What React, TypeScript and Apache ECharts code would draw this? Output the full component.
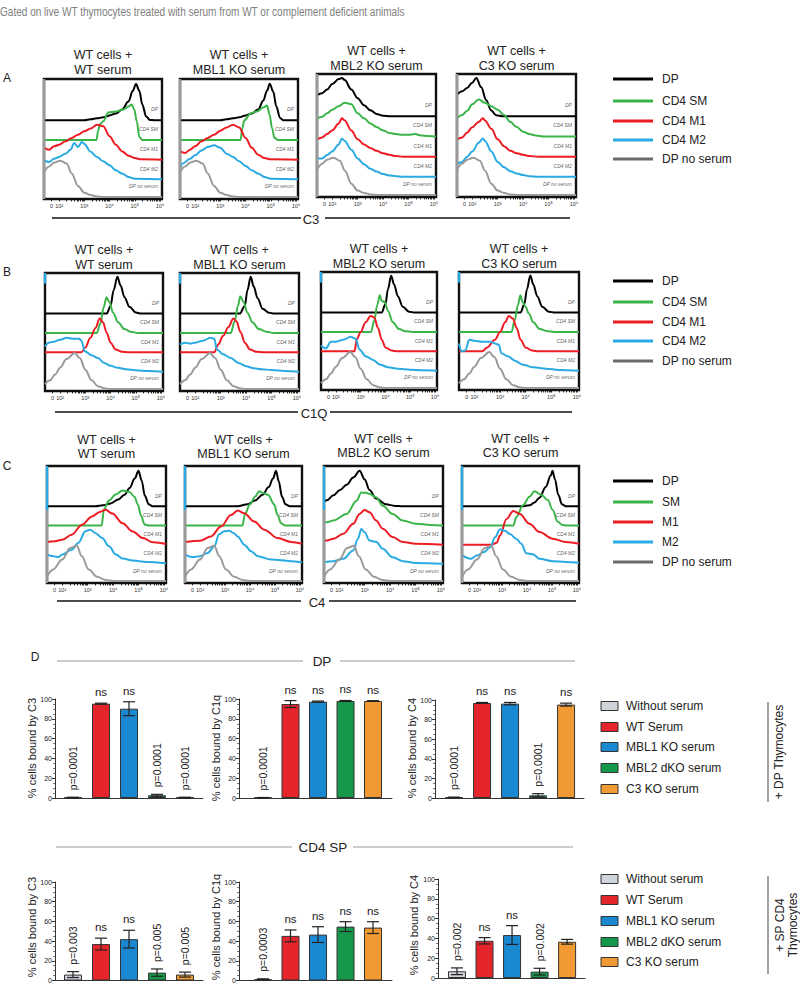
import React, { useEffect, useRef } from "react";
import * as echarts from "echarts";

const FONT = "'Liberation Sans', Arial, Helvetica, sans-serif";

// ---------------- texts ----------------
const FIGURE_TITLE = "Gated on live WT thymocytes treated with serum from WT or complement deficient animals";
const PANEL_TITLE_TOP = ["WT cells +", "WT cells +", "WT cells +", "WT cells +"];
const PANEL_TITLE_BOTTOM = ["WT serum", "MBL1 KO serum", "MBL2 KO serum", "C3 KO serum"];
const ROW_LETTERS = ["A", "B", "C"];
const MARKERS = ["C3", "C1Q", "C4"];
const IN_PANEL_LABELS = ["DP", "CD4 SM", "CD4 M1", "CD4 M2", "DP no serum"];
const LEGEND_AB = ["DP", "CD4 SM", "CD4 M1", "CD4 M2", "DP no serum"];
const LEGEND_C = ["DP", "SM", "M1", "M2", "DP no serum"];
const X_TICK_VALUES = [1.7, 2, 3, 4, 5, 6];
const X_TICK_LABELS = ["0", "10²", "10³", "10⁴", "10⁵", "10⁶"];
const HIST_COLORS = ["#000000", "#3bb54a", "#ed1c24", "#29aae2", "#9a9a9a"];
const LEGEND_COLORS = ["#000000", "#3bb54a", "#ed1c24", "#29aae2", "#6b6b6b"];
const BASELINES = [4, 3, 2, 1, 0.1];

// ---------------- histogram curves: [log10 position, height above the curve's baseline] ----------------
// Row A: C3
const C3_WT = [
  [[1.4,0],[3.0,0],[3.25,0.05],[3.5,0.1],[3.75,0.15],[4.0,0.25],[4.25,0.35],[4.5,0.55],[4.75,0.95],[4.92,1.5],[5.05,1.85],[5.18,1.5],[5.3,0.8],[5.45,0.2],[5.6,0.02],[5.8,0],[6.08,0]],
  [[1.4,0],[3.48,0],[3.55,0.5],[3.62,0.8],[3.75,0.95],[3.95,1.4],[4.25,1.45],[4.55,1.55],[4.75,1.7],[4.88,1.8],[4.98,1.55],[5.08,0.95],[5.18,0.15],[5.3,0],[6.08,0]],
  [[1.4,0.6],[1.6,0.5],[1.8,0.68],[2.0,0.76],[2.25,0.93],[2.5,1.1],[2.75,1.27],[3.0,1.44],[3.25,1.58],[3.5,1.78],[3.75,1.7],[4.0,1.19],[4.25,0.76],[4.5,0.42],[4.75,0.2],[5.0,0.08],[5.25,0.02],[6.08,0]],
  [[1.4,0.97],[1.6,0.88],[1.8,1.05],[2.0,1.14],[2.25,1.3],[2.45,1.5],[2.6,1.85],[2.75,1.64],[2.9,1.9],[3.0,1.8],[3.25,1.4],[3.5,1.14],[3.75,0.92],[4.0,0.71],[4.25,0.46],[4.5,0.29],[4.75,0.12],[5.0,0.03],[6.08,0]],
];
const C3_MBL1 = [
  [[1.4,0],[3.0,0],[3.25,0.05],[3.5,0.1],[3.75,0.15],[4.0,0.25],[4.25,0.35],[4.5,0.55],[4.7,1.0],[4.85,1.5],[4.96,1.86],[5.1,1.45],[5.22,0.7],[5.37,0.12],[5.5,0],[6.08,0]],
  [[1.4,0],[3.8,0],[3.87,0.6],[3.95,1.0],[4.2,1.35],[4.45,1.45],[4.7,1.65],[4.85,1.75],[4.95,1.3],[5.05,0.6],[5.15,0.1],[5.3,0],[6.08,0]],
  [[1.4,0.42],[1.6,0.34],[1.8,0.5],[2.0,0.68],[2.25,0.93],[2.5,1.1],[2.75,1.27],[3.0,1.47],[3.25,1.64],[3.5,1.78],[3.75,1.64],[4.0,1.1],[4.25,0.6],[4.5,0.25],[4.75,0.08],[5.0,0.02],[6.08,0]],
  [[1.4,0.5],[1.5,0.8],[1.8,1.05],[2.0,1.22],[2.25,1.47],[2.5,1.64],[2.75,1.73],[3.0,1.6],[3.25,1.3],[3.5,1.14],[3.75,0.92],[4.0,0.68],[4.25,0.46],[4.5,0.29],[4.75,0.12],[5.0,0.03],[6.08,0]],
];
const C3_MBL2 = [
  [[1.4,1.05],[1.6,1.15],[1.8,1.33],[2.0,1.6],[2.25,1.85],[2.38,1.9],[2.49,1.8],[2.75,1.33],[3.0,0.9],[3.25,0.55],[3.5,0.3],[3.74,0.12],[4.0,0.03],[4.3,0],[6.08,0]],
  [[1.4,0.9],[1.6,0.98],[1.8,1.15],[2.0,1.33],[2.25,1.5],[2.49,1.67],[2.75,1.6],[3.0,1.15],[3.25,0.9],[3.5,0.64],[3.74,0.47],[4.0,0.3],[4.25,0.17],[4.5,0.12],[4.75,0.09],[5.0,0.09],[5.25,0.12],[5.5,0.05],[5.75,0.02],[6.08,0]],
  [[1.4,0.86],[1.6,0.95],[1.8,1.12],[2.0,1.3],[2.25,1.64],[2.38,1.9],[2.49,1.8],[2.75,1.3],[3.0,0.86],[3.25,0.6],[3.5,0.43],[3.74,0.29],[4.0,0.17],[4.25,0.09],[4.5,0.03],[4.8,0],[6.08,0]],
  [[1.4,0.91],[1.6,0.91],[1.8,1.08],[2.0,1.26],[2.25,1.6],[2.38,1.9],[2.49,1.78],[2.75,1.34],[3.0,0.91],[3.25,0.62],[3.5,0.4],[3.74,0.26],[4.0,0.14],[4.25,0.07],[4.5,0.03],[4.8,0],[6.08,0]],
];
const C3_C3KO = [
  [[1.4,1.07],[1.6,1.24],[1.8,1.41],[2.0,1.67],[2.16,1.9],[2.35,1.45],[2.55,0.8],[2.74,0.3],[2.94,0.05],[3.2,0],[6.08,0]],
  [[1.4,0.9],[1.6,1.07],[1.8,1.28],[2.0,1.6],[2.25,1.84],[2.5,1.67],[2.75,1.5],[3.0,1.33],[3.25,1.07],[3.5,0.72],[3.75,0.47],[4.0,0.24],[4.25,0.12],[4.5,0.05],[4.8,0],[6.08,0]],
  [[1.4,0.86],[1.6,0.95],[1.8,1.2],[2.0,1.46],[2.25,1.72],[2.42,1.9],[2.5,1.8],[2.75,1.38],[3.0,0.86],[3.25,0.52],[3.5,0.29],[3.75,0.17],[4.0,0.09],[4.25,0.03],[4.6,0],[6.08,0]],
  [[1.4,0.65],[1.6,0.74],[1.8,1.0],[2.0,1.26],[2.25,1.69],[2.42,1.9],[2.5,1.78],[2.75,1.26],[3.0,0.74],[3.25,0.48],[3.5,0.28],[3.75,0.17],[4.0,0.09],[4.25,0.03],[4.6,0],[6.08,0]],
];
const GRAY_C3 = [[1.4,1.25],[1.6,1.55],[1.8,1.75],[2.05,1.85],[2.3,1.7],[2.5,1.2],[2.75,0.56],[3.0,0.22],[3.25,0.1],[3.5,0.03],[3.8,0],[6.08,0]];

// Row B: C1Q
const C1Q_WT = [
  [[1.4,0],[3.85,0],[4.0,0.4],[4.12,1.2],[4.27,1.9],[4.4,1.45],[4.55,0.85],[4.75,0.35],[5.0,0.06],[5.2,0],[6.08,0]],
  [[1.4,0],[3.45,0],[3.6,0.5],[3.72,1.3],[3.84,1.85],[3.95,1.6],[4.1,1.05],[4.3,0.55],[4.55,0.2],[4.8,0.06],[5.1,0],[6.08,0]],
  [[1.4,0],[2.85,0],[3.0,0.25],[3.2,0.75],[3.4,1.25],[3.57,1.75],[3.7,1.55],[3.85,1.0],[4.0,0.5],[4.2,0.15],[4.45,0.03],[4.7,0],[6.08,0]],
  [[1.4,1.3],[1.55,1.5],[1.75,1.55],[2.0,1.65],[2.25,1.75],[2.5,1.7],[2.75,1.7],[2.85,1.6],[2.98,1.05],[3.25,0.85],[3.5,0.7],[3.75,0.45],[4.0,0.3],[4.3,0.2],[4.6,0.12],[5.0,0.07],[5.5,0.03],[6.08,0]],
];
const C1Q_MBL1 = [
  [[1.4,0],[3.75,0],[3.95,0.4],[4.05,1.2],[4.18,1.9],[4.3,1.4],[4.45,0.8],[4.65,0.25],[4.9,0.05],[5.1,0],[6.08,0]],
  [[1.4,0],[3.4,0],[3.55,0.6],[3.68,1.4],[3.77,1.9],[3.9,1.6],[4.05,1.05],[4.25,0.55],[4.5,0.2],[4.8,0.06],[5.1,0],[6.08,0]],
  [[1.4,0],[2.75,0],[2.9,0.4],[3.1,0.85],[3.3,1.3],[3.5,1.75],[3.62,1.6],[3.78,1.05],[3.95,0.5],[4.15,0.15],[4.4,0.03],[4.7,0],[6.08,0]],
  [[1.4,1.4],[1.6,1.5],[1.8,1.45],[2.0,1.5],[2.3,1.6],[2.6,1.75],[2.75,1.7],[2.85,1.15],[3.1,0.9],[3.4,0.7],[3.7,0.45],[4.0,0.28],[4.3,0.18],[4.6,0.13],[5.0,0.08],[5.5,0.03],[6.08,0]],
];
const C1Q_MBL2 = [
  [[1.4,0],[3.85,0],[4.0,0.45],[4.1,1.2],[4.23,1.9],[4.35,1.45],[4.5,0.85],[4.7,0.3],[4.95,0.05],[5.2,0],[6.08,0]],
  [[1.4,0],[3.42,0],[3.55,0.6],[3.67,1.4],[3.77,1.9],[3.85,1.6],[3.97,1.55],[4.1,1.1],[4.3,0.5],[4.55,0.15],[4.8,0.04],[5.1,0],[6.08,0]],
  [[1.4,0],[2.75,0],[2.85,0.65],[3.0,1.0],[3.2,1.5],[3.4,1.83],[3.55,1.75],[3.7,1.2],[3.85,0.6],[4.0,0.2],[4.25,0.04],[4.5,0],[6.08,0]],
  [[1.4,1.3],[1.6,1.15],[1.8,1.5],[2.0,1.5],[2.3,1.6],[2.6,1.75],[2.8,1.65],[2.95,1.1],[3.2,0.75],[3.5,0.55],[3.8,0.3],[4.1,0.18],[4.5,0.1],[5.0,0.05],[5.5,0.02],[6.08,0]],
];
const C1Q_C3KO = [
  [[1.4,0],[3.8,0],[3.95,0.45],[4.05,1.2],[4.18,1.92],[4.3,1.45],[4.45,0.85],[4.65,0.3],[4.9,0.05],[5.15,0],[6.08,0]],
  [[1.4,0],[3.45,0],[3.57,0.6],[3.7,1.4],[3.79,1.9],[3.88,1.55],[4.0,1.3],[4.12,0.95],[4.3,0.5],[4.55,0.15],[4.85,0.04],[5.1,0],[6.08,0]],
  [[1.4,0],[2.3,0],[2.5,0.2],[2.8,0.6],[3.0,1.0],[3.2,1.5],[3.34,1.83],[3.5,1.7],[3.65,1.2],[3.8,0.6],[4.0,0.2],[4.25,0.04],[4.5,0],[6.08,0]],
  [[1.4,1.4],[1.5,1.0],[1.65,1.05],[1.8,1.6],[2.0,1.55],[2.3,1.5],[2.6,1.5],[2.95,1.35],[3.05,0.9],[3.3,0.75],[3.6,0.5],[3.9,0.3],[4.3,0.17],[4.8,0.1],[5.3,0.04],[6.08,0]],
];
const GRAY_C1Q = [[1.4,0.25],[1.6,0.45],[1.8,0.75],[2.0,1.1],[2.25,1.55],[2.58,1.86],[2.78,1.6],[3.0,1.0],[3.25,0.45],[3.5,0.15],[3.75,0.04],[4.0,0],[6.08,0]];

// Row C: C4
const C4_WT = [
  [[1.4,0],[3.3,0],[3.6,0.05],[3.9,0.15],[4.2,0.35],[4.45,0.6],[4.65,0.95],[4.85,1.45],[5.0,1.85],[5.12,1.35],[5.25,0.55],[5.4,0.1],[5.55,0],[6.08,0]],
  [[1.4,0],[3.55,0],[3.64,0.85],[3.84,1.3],[4.1,1.62],[4.37,1.82],[4.64,1.75],[4.84,1.5],[4.97,1.1],[5.1,0.5],[5.24,0.05],[5.4,0],[6.08,0]],
  [[1.4,0.14],[1.7,0.18],[2.0,0.26],[2.37,0.52],[2.77,1.03],[3.17,1.47],[3.5,1.72],[3.71,1.82],[3.97,1.62],[4.37,1.12],[4.77,0.69],[5.17,0.34],[5.57,0.12],[6.08,0.03]],
  [[1.4,0.48],[1.64,0.4],[1.84,0.35],[2.0,0.48],[2.37,0.74],[2.64,1.1],[2.91,1.7],[3.1,1.78],[3.31,1.6],[3.57,1.34],[3.84,0.91],[4.11,0.48],[4.37,0.28],[4.77,0.17],[5.31,0.1],[6.08,0.03]],
];
const C4_MBL1 = [
  [[1.4,0],[3.5,0],[3.9,0.1],[4.2,0.3],[4.5,0.6],[4.75,1.0],[4.92,1.45],[5.04,1.85],[5.15,1.3],[5.28,0.5],[5.42,0.1],[5.6,0],[6.08,0]],
  [[1.4,0],[3.7,0],[3.8,0.6],[4.0,1.1],[4.2,1.5],[4.37,1.78],[4.55,1.68],[4.72,1.6],[4.97,1.09],[5.1,0.55],[5.24,0.12],[5.4,0],[6.08,0]],
  [[1.4,0.14],[2.0,0.2],[2.44,0.43],[2.84,0.95],[3.24,1.55],[3.51,1.78],[3.77,1.64],[4.17,1.2],[4.57,0.78],[5.11,0.34],[5.64,0.14],[6.08,0.04]],
  [[1.4,0.48],[1.7,0.35],[2.0,0.4],[2.31,0.57],[2.57,0.91],[2.77,1.55],[2.97,1.7],[3.17,1.72],[3.35,1.6],[3.51,1.43],[3.77,1.0],[4.04,0.66],[4.31,0.4],[4.84,0.22],[5.64,0.14],[6.08,0.08]],
];
const C4_MBL2 = [
  [[1.4,0.25],[1.51,0.31],[1.77,0.57],[2.03,0.85],[2.29,1.12],[2.55,1.5],[2.8,1.85],[3.0,1.4],[3.19,0.85],[3.45,0.4],[3.84,0.1],[4.2,0.02],[4.5,0],[6.08,0]],
  [[1.4,0.15],[1.51,0.17],[1.77,0.26],[2.29,0.6],[2.68,1.29],[2.87,1.72],[3.06,1.7],[3.19,1.64],[3.45,1.47],[3.71,1.03],[4.1,0.6],[4.49,0.26],[5.01,0.09],[5.6,0.03],[6.08,0]],
  [[1.4,0.2],[1.51,0.22],[1.77,0.31],[2.16,0.57],[2.55,1.09],[2.8,1.6],[3.0,1.81],[3.19,1.69],[3.45,1.26],[3.71,0.83],[4.1,0.4],[4.49,0.14],[5.0,0.05],[6.08,0]],
  [[1.4,0.08],[1.77,0.14],[2.16,0.26],[2.55,0.69],[2.73,1.29],[2.87,1.81],[3.0,1.64],[3.19,1.21],[3.45,1.15],[3.71,0.78],[4.1,0.34],[4.49,0.14],[5.0,0.04],[6.08,0]],
];
const C4_C3KO = [
  [[1.4,0],[3.8,0],[4.1,0.05],[4.3,0.2],[4.5,0.45],[4.75,1.0],[4.95,1.6],[5.02,1.85],[5.12,1.4],[5.25,0.6],[5.4,0.1],[5.55,0],[6.08,0]],
  [[1.4,0],[3.45,0],[3.58,0.45],[3.84,1.05],[4.1,1.5],[4.3,1.78],[4.57,1.6],[4.83,1.33],[5.03,0.81],[5.22,0.2],[5.42,0.02],[5.6,0],[6.08,0]],
  [[1.4,0],[2.6,0],[2.79,0.1],[2.92,0.48],[3.18,1.34],[3.45,1.76],[3.71,1.6],[4.1,1.09],[4.5,0.66],[5.03,0.31],[5.55,0.14],[6.08,0.05]],
  [[1.4,0.45],[1.74,0.26],[2.0,0.43],[2.26,0.6],[2.53,0.86],[2.72,1.38],[2.92,1.8],[3.12,1.72],[3.32,1.55],[3.58,1.29],[3.78,1.03],[3.97,0.55],[4.24,0.5],[4.5,0.26],[5.03,0.14],[5.55,0.09],[6.08,0.05]],
];
const GRAY_C4 = [[1.4,0.22],[1.64,0.6],[2.0,1.12],[2.31,1.72],[2.57,1.84],[2.77,1.29],[3.04,0.6],[3.37,0.22],[3.71,0.05],[4.0,0],[6.08,0]];

// events piled up at the axis minimum (vertical runs on the left edge): [curve index, from, to]
const PILEUP_C3 = [[4, 0, 6.1]];
const PILEUP_C1Q = [[3, 5.55, 6.1]];
const PILEUP_C4 = [[3, 3.8, 6.1], [4, 0, 3.8]];

// ---------------- bar charts ----------------
const BAR_GROUPS = ["Without serum", "WT Serum", "MBL1 KO serum", "MBL2 dKO serum", "C3 KO serum"];
const BAR_COLORS = ["#cfd3da", "#e4262c", "#1b88d2", "#16984a", "#f19a33"];

const DP_C3_MEAN = [0.5, 95.3, 90.2, 2.7, 0.5];
const DP_C3_ERR = [0.3, 0.5, 7, 1, 0.3];
const DP_C3_LABELS = ["p=0.0001", "ns", "ns", "p=0.0001", "p=0.0001"];
const DP_C1Q_MEAN = [0.3, 94.9, 97.3, 98, 98];
const DP_C1Q_ERR = [0.2, 3.5, 0.6, 0.5, 0.3];
const DP_C1Q_LABELS = ["p=0.0001", "ns", "ns", "ns", "ns"];
const DP_C4_MEAN = [0.6, 97, 96.3, 2.7, 95.3];
const DP_C4_ERR = [0.3, 0.5, 1.2, 1.7, 1.5];
const DP_C4_LABELS = ["p=0.0001", "ns", "ns", "p=0.0001", "ns"];
const SP_C3_MEAN = [6, 37, 42, 8, 6];
const SP_C3_ERR = [3, 6, 9, 3.7, 2.5];
const SP_C3_LABELS = ["p=0.003", "ns", "ns", "p=0.005", "p=0.005"];
const SP_C1Q_MEAN = [1.3, 45.3, 46.6, 54.7, 53.7];
const SP_C1Q_ERR = [0.4, 6, 8, 5, 6];
const SP_C1Q_LABELS = ["p=0.0003", "ns", "ns", "ns", "ns"];
const SP_C4_MEAN = [6.8, 37.6, 43.4, 6.4, 36.6];
const SP_C4_ERR = [3.4, 3.2, 9.5, 3.4, 2.4];
const SP_C4_LABELS = ["p=0.002", "ns", "ns", "p=0.002", ""];
const Y_NAMES = ["% cells bound by C3", "% cells bound by C1q", "% cells bound by C4"];
const SECTION_TITLES = ["DP", "CD4 SP"];
const SIDE_DP = ["+ DP Thymocytes"];
const SIDE_SP = ["+ SP CD4", "Thymocytes"];

// ---------------- layout (pixels) ----------------
const HIST_RECTS = [
  [[44, 79, 118, 120], [180, 79, 118, 120], [317, 74, 119, 123], [457, 74, 119, 123]],
  [[45, 273, 118, 118], [180, 273, 119, 118], [321, 272, 116, 118], [459, 272, 120, 118]],
  [[47, 466, 119, 117], [185, 466, 117, 117], [324, 466, 119, 117], [462, 466, 117, 117]],
];
const TITLE_Y = [
  [[55, 70], [55, 70], [51, 66], [51, 66]],
  [[250, 265], [250, 265], [249, 264], [249, 264]],
  [[440, 454], [440, 454], [439, 453], [439, 453]],
];
const ROW_LEGEND_Y = [[79, 101, 121, 140, 159], [281, 302, 322, 341, 361], [481, 502, 522, 542, 562]];
const ROW_LETTER_Y = [78, 272, 466];
const ROW_AXIS = [
  { y: 218, left: [52, 301], right: [325, 570], lx: 311 },
  { y: 412, left: [55, 298], right: [330, 572], lx: 314 },
  { y: 601, left: [57, 301], right: [329, 576], lx: 317 },
];
const BAR_RECTS = [
  { rect: [55, 699, 148, 99], min: -0.643, max: 4.643, nameX: 32, nameY: 748 },
  { rect: [239, 699, 153, 99], min: -0.873, max: 4.69, nameX: 216, nameY: 748 },
  { rect: [435, 700, 149, 98], min: -0.68, max: 4.64, nameX: 412, nameY: 748 },
  { rect: [55, 882, 148, 99], min: -0.643, max: 4.643, nameX: 32, nameY: 927 },
  { rect: [239, 882, 153, 99], min: -0.873, max: 4.69, nameX: 216, nameY: 927 },
  { rect: [438, 879, 147, 99], min: -0.69, max: 4.65, nameX: 414, nameY: 925 },
];

function buildOption() {
  const grid: any[] = [];
  const xAxis: any[] = [];
  const yAxis: any[] = [];
  const series: any[] = [];
  const graphic: any[] = [];

  const txt = (x: number, y: number, s: string, size: number, extra: any = {}, style: any = {}) => ({
    type: "text", x, y, silent: true, ...extra,
    style: { text: s, fontSize: size, fontFamily: FONT, fill: "#222", align: "center", verticalAlign: "middle", ...style },
  });
  const ln = (x1: number, y1: number, x2: number, y2: number, stroke: string, w: number) => ({
    type: "line", silent: true, shape: { x1, y1, x2, y2 }, style: { stroke, lineWidth: w },
  });

  graphic.push(txt(0, 11, FIGURE_TITLE, 13.5, { scaleX: 0.745 }, { align: "left", fill: "#808080" }));

  const minor: number[] = [1.7];
  for (let d = 2; d <= 5; d++) for (let k = 1; k <= 9; k++) minor.push(d + Math.log10(k));
  minor.push(6);

  const HIST_ROWS = [
    { panels: [C3_WT, C3_MBL1, C3_MBL2, C3_C3KO], gray: GRAY_C3, legend: LEGEND_AB, pile: PILEUP_C3 },
    { panels: [C1Q_WT, C1Q_MBL1, C1Q_MBL2, C1Q_C3KO], gray: GRAY_C1Q, legend: LEGEND_AB, pile: PILEUP_C1Q },
    { panels: [C4_WT, C4_MBL1, C4_MBL2, C4_C3KO], gray: GRAY_C4, legend: LEGEND_C, pile: PILEUP_C4 },
  ];

  HIST_ROWS.forEach((row, r) => {
    row.panels.forEach((curves, c) => {
      const [l, t, w, h] = HIST_RECTS[r][c];
      const gi = grid.length;
      grid.push({ left: l, top: t, width: w, height: h, show: true, borderColor: "#111", borderWidth: 2.4, backgroundColor: "rgba(0,0,0,0)" });
      xAxis.push({
        type: "value", gridIndex: gi, min: 1.4, max: 6.08,
        axisLine: { show: false }, splitLine: { show: false },
        axisTick: { show: true, customValues: minor, length: 2.5, lineStyle: { color: "#000", width: 0.8 } },
        axisLabel: {
          show: true, customValues: X_TICK_VALUES, margin: 4, fontSize: 5.5, color: "#333", fontFamily: FONT,
          formatter: (v: number) => {
            const i = X_TICK_VALUES.findIndex((tv) => Math.abs(tv - v) < 1e-6);
            return i >= 0 ? X_TICK_LABELS[i] : "";
          },
        },
      });
      yAxis.push({ type: "value", gridIndex: gi, min: 0, max: 6.1, show: false, splitLine: { show: false } });
      const all = [...curves, row.gray];
      all.forEach((curve, k) => {
        series.push({
          type: "line", xAxisIndex: gi, yAxisIndex: gi, silent: true,
          data: curve.map(([d, v]) => [d, v + BASELINES[k]]),
          smooth: 0.35, smoothMonotone: "x", symbol: "none", showSymbol: false,
          lineStyle: { color: HIST_COLORS[k], width: 2 }, z: 3 + k,
        });
      });
      row.pile.forEach(([k, y0, y1]) => {
        series.push({
          type: "line", xAxisIndex: gi, yAxisIndex: gi, silent: true, clip: false,
          data: [[1.4, y0], [1.4, y1]], symbol: "none", showSymbol: false,
          lineStyle: { color: HIST_COLORS[k], width: 2.4 }, z: 9,
        });
      });
      series.push({
        type: "scatter", xAxisIndex: gi, yAxisIndex: gi, silent: true, symbolSize: 1,
        itemStyle: { color: "rgba(0,0,0,0)" }, z: 10,
        data: IN_PANEL_LABELS.map((name, k) => ({ value: [5.98, BASELINES[k] + 0.55], name })),
        label: { show: true, position: "left", distance: 1, formatter: (p: any) => p.name, fontSize: 5, fontStyle: "italic", color: "#333", fontFamily: FONT },
      });
      graphic.push(txt(l + w / 2, TITLE_Y[r][c][0], PANEL_TITLE_TOP[c], 12.5));
      graphic.push(txt(l + w / 2, TITLE_Y[r][c][1], PANEL_TITLE_BOTTOM[c], 12.5));
    });

    row.legend.forEach((name, k) => {
      const y = ROW_LEGEND_Y[r][k];
      graphic.push(ln(613, y, 653, y, LEGEND_COLORS[k], 3));
      graphic.push(txt(662, y, name, 12, {}, { align: "left" }));
    });
    graphic.push(txt(7, ROW_LETTER_Y[r], ROW_LETTERS[r], 12));
    const ax = ROW_AXIS[r];
    graphic.push(ln(ax.left[0], ax.y, ax.left[1], ax.y, "#111", 1.6));
    graphic.push(ln(ax.right[0], ax.y, ax.right[1], ax.y, "#111", 1.6));
    graphic.push(txt(ax.lx, ax.y + 1, MARKERS[r], 13));
  });

  // ---------------- section D ----------------
  graphic.push(txt(35, 657, "D", 12));
  graphic.push(ln(57, 661, 303, 661, "#bdbdbd", 1.5));
  graphic.push(ln(340, 661, 575, 661, "#bdbdbd", 1.5));
  graphic.push(txt(322, 661, SECTION_TITLES[0], 13.5));
  graphic.push(ln(56, 847, 292, 847, "#bdbdbd", 1.5));
  graphic.push(ln(353, 847, 573, 847, "#bdbdbd", 1.5));
  graphic.push(txt(323, 847, SECTION_TITLES[1], 13.5));

  const BAR_SETS = [
    { mean: DP_C3_MEAN, err: DP_C3_ERR, labels: DP_C3_LABELS, name: Y_NAMES[0] },
    { mean: DP_C1Q_MEAN, err: DP_C1Q_ERR, labels: DP_C1Q_LABELS, name: Y_NAMES[1] },
    { mean: DP_C4_MEAN, err: DP_C4_ERR, labels: DP_C4_LABELS, name: Y_NAMES[2] },
    { mean: SP_C3_MEAN, err: SP_C3_ERR, labels: SP_C3_LABELS, name: Y_NAMES[0] },
    { mean: SP_C1Q_MEAN, err: SP_C1Q_ERR, labels: SP_C1Q_LABELS, name: Y_NAMES[1] },
    { mean: SP_C4_MEAN, err: SP_C4_ERR, labels: SP_C4_LABELS, name: Y_NAMES[2] },
  ];

  BAR_SETS.forEach((set, b) => {
    const lay = BAR_RECTS[b];
    const [l, t, w, h] = lay.rect;
    const gi = grid.length;
    grid.push({ left: l, top: t, width: w, height: h, show: false });
    xAxis.push({
      type: "value", gridIndex: gi, min: lay.min, max: lay.max, position: "bottom",
      axisLine: { show: true, onZero: false, lineStyle: { color: "#333", width: 1 } },
      axisTick: { show: false }, axisLabel: { show: false }, splitLine: { show: false },
    });
    yAxis.push({
      type: "value", gridIndex: gi, min: 0, max: 100, interval: 20, position: "left", offset: 0,
      axisLine: { show: true, onZero: false, lineStyle: { color: "#333", width: 1 } },
      axisTick: { show: true, inside: false, length: 3, lineStyle: { color: "#333", width: 1 } },
      minorTick: { show: true, splitNumber: 4, length: 2, lineStyle: { color: "#555", width: 0.8 } },
      axisLabel: { inside: false, fontSize: 7, color: "#222", margin: 3, fontFamily: FONT },
      splitLine: { show: false },
    });
    graphic.push(txt(lay.nameX, lay.nameY, set.name, 11, { rotation: Math.PI / 2 }));
    series.push({
      type: "bar", xAxisIndex: gi, yAxisIndex: gi, silent: true, barWidth: 18,
      data: set.mean.map((v, i) => ({ value: [i, v], itemStyle: { color: BAR_COLORS[i] } })),
      itemStyle: { borderColor: "#333", borderWidth: 1 }, z: 3,
    });
    const labels = set.labels;
    series.push({
      type: "custom", xAxisIndex: gi, yAxisIndex: gi, silent: true, z: 5,
      data: set.mean.map((v, i) => [i, v, set.err[i]]),
      renderItem: (params: any, api: any) => {
        const i = api.value(0), m = api.value(1), e = api.value(2);
        const top = api.coord([i, m + e]);
        const bot = api.coord([i, Math.max(m - e, 0)]);
        const cap = 6;
        const st = { stroke: "#222", lineWidth: 1.2 };
        const children: any[] = [
          { type: "line", shape: { x1: top[0], y1: top[1], x2: bot[0], y2: bot[1] }, style: st },
          { type: "line", shape: { x1: top[0] - cap, y1: top[1], x2: top[0] + cap, y2: top[1] }, style: st },
          { type: "line", shape: { x1: bot[0] - cap, y1: bot[1], x2: bot[0] + cap, y2: bot[1] }, style: st },
        ];
        const lab = labels[params.dataIndex];
        if (lab) {
          if (lab.indexOf("p=") === 0) {
            children.push({ type: "text", x: top[0], y: top[1] - 7, rotation: Math.PI / 2,
              style: { text: lab, fontSize: 10.5, fontFamily: FONT, fill: "#222", align: "left", verticalAlign: "middle" } });
          } else {
            children.push({ type: "text", x: top[0], y: top[1] - 11,
              style: { text: lab, fontSize: 11.5, fontFamily: FONT, fill: "#222", align: "center", verticalAlign: "middle" } });
          }
        }
        return { type: "group", children };
      },
    });
  });

  const BAR_LEG_Y = [[706, 727, 747, 768, 789], [879, 900, 921, 942, 962]];
  BAR_LEG_Y.forEach((ys) => {
    BAR_GROUPS.forEach((name, k) => {
      graphic.push({ type: "rect", silent: true, shape: { x: 601, y: ys[k] - 4.5, width: 17, height: 9 }, style: { fill: BAR_COLORS[k], stroke: "#333", lineWidth: 1 } });
      graphic.push(txt(626, ys[k], name, 12, {}, { align: "left" }));
    });
  });
  graphic.push(ln(768, 702, 768, 802, "#666", 1.2));
  graphic.push(txt(779, 752, SIDE_DP[0], 12, { rotation: Math.PI / 2 }));
  graphic.push(ln(768, 876, 768, 974, "#666", 1.2));
  graphic.push(txt(780, 925, SIDE_SP[0], 12, { rotation: Math.PI / 2 }));
  graphic.push(txt(793, 925, SIDE_SP[1], 12, { rotation: Math.PI / 2 }));

  return {
    animation: false,
    backgroundColor: "#ffffff",
    textStyle: { fontFamily: FONT },
    grid, xAxis, yAxis, series, graphic,
  };
}

export default function App() {
  const ref = useRef<HTMLDivElement>(null);
  useEffect(() => {
    if (!ref.current) return;
    const chart = echarts.init(ref.current, null, { renderer: "svg" });
    chart.setOption(buildOption() as any);
    return () => chart.dispose();
  }, []);
  return (
    <div
      ref={ref}
      style={{ position: "absolute", left: 0, top: 0, width: 800, height: 984, background: "#fff" }}
    />
  );
}
